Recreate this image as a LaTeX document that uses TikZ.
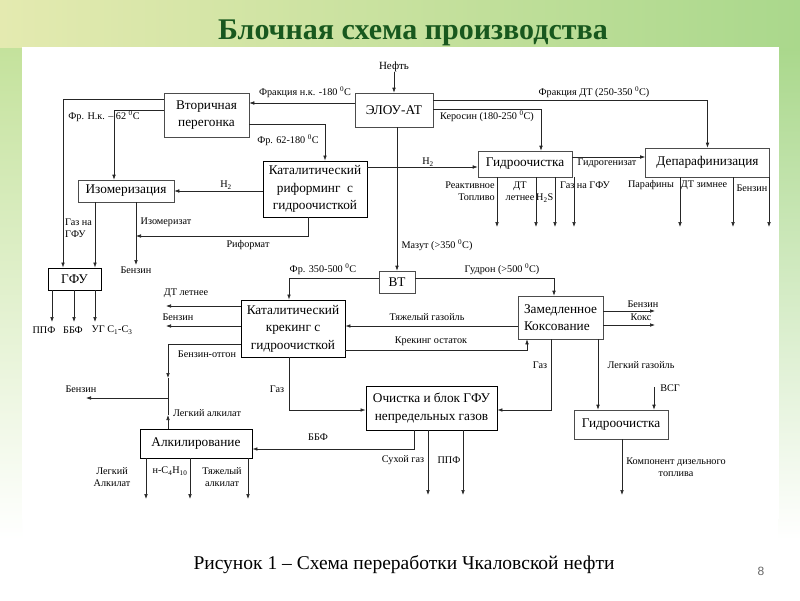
\documentclass[tikz,border=0pt]{standalone}
\usepackage{fontspec}
\setmainfont{Liberation Serif}
\setsansfont{Liberation Sans}
\usetikzlibrary{arrows.meta}

\definecolor{titlegreen}{RGB}{24,88,30}
\definecolor{bandleft}{RGB}{228,234,176}
\definecolor{bandright}{RGB}{170,216,140}
\definecolor{stripgreen}{RGB}{196,226,156}

\begin{document}
\begin{tikzpicture}
  [x=1pt, y=-1pt,
   box/.style={draw=black!70, line width=0.6pt, fill=white, inner sep=1pt, align=center,
               font=\fontsize{13.3}{17.5}\selectfont},
   boldbox/.style={box, draw=black, line width=0.9pt},
   lab/.style={inner sep=0pt, font=\fontsize{10.2}{11.5}\selectfont, align=center},
   arr/.style={draw=black!85, line width=0.6pt, -{Latex[length=5pt,width=3.6pt]}},
   line/.style={draw=black!85, line width=0.6pt}]
  \useasboundingbox (0,0) rectangle (800,600);
  % slide background
  \fill[white] (0,0) rectangle (800,600);
  \shade[left color=bandleft, right color=bandright] (0,0) rectangle (800,48);
  \shade[top color=stripgreen, bottom color=white] (0,48) rectangle (22,540);
  \shade[top color=bandright, bottom color=white] (778,48) rectangle (800,540);
  \fill[white] (22,47) rectangle (779,519);
  \node[font=\bfseries\fontsize{30}{33}\selectfont, text=titlegreen] (title) at (413,33) {Блочная схема производства};

  % blocks
  \node[box, minimum width=78, minimum height=34] (elou) at (394,110) {ЭЛОУ-АТ};
  \node[box, minimum width=85, minimum height=44] (vtor) at (206.5,115) {Вторичная\\перегонка};
  \node[boldbox, minimum width=104, minimum height=56] (reform) at (315,189) {Каталитический\\риформинг\ \ с\\гидроочисткой};
  \node[box, minimum width=96, minimum height=22] (izom) at (126,191) {Изомеризация};
  \node[box, minimum width=94, minimum height=26] (gidro) at (525,164) {Гидроочистка};
  \node[box, minimum width=124, minimum height=29] (depar) at (707.5,162.5) {Депарафинизация};
  \node[boldbox, minimum width=53, minimum height=22] (gfu) at (74.5,279) {ГФУ};
  \node[box, minimum width=36, minimum height=22] (vt) at (397,282) {ВТ};
  \node[boldbox, minimum width=104, minimum height=57] (kreking) at (293,328.5) {Каталитический\\крекинг с\\гидроочисткой};
  \node[box, minimum width=85, minimum height=43, align=left] (koks) at (560.5,317.5) {Замедленное\\Коксование};
  \node[boldbox, minimum width=131, minimum height=44] (ochist) at (431.5,408) {Очистка и блок ГФУ\\непредельных газов};
  \node[box, minimum width=94, minimum height=29] (gidrob) at (621,424.5) {Гидроочистка};
  \node[boldbox, minimum width=112, minimum height=29] (alkil) at (196,443.5) {Алкилирование};

  % top part
  \node[lab, font=\fontsize{11}{13}\selectfont] (neft) at (394,67) {Нефть};
  \draw[arr] (neft.south) -- (elou.north);
  \draw[arr] (elou.west |- 0,103) -- (vtor.east |- 0,103);
  \node[lab] (tfnk) at (305,92) {Фракция н.к. -180 \textsuperscript{0}С};
  \draw[arr] (elou.east |- 0,100) -| (depar.north);
  \node[lab] (tfdt) at (594,92) {Фракция ДТ (250-350 \textsuperscript{0}С)};
  \draw[arr] (elou.east |- 0,109) -| (gidro.north -| 541,0);
  \node[lab] (tker) at (487,116) {Керосин (180-250 \textsuperscript{0}С)};
  \draw[arr] (vtor.west |- 0,99) -| (gfu.north -| 63,0);
  \draw[arr] (vtor.west |- 0,110) -| (izom.north -| 114,0);
  \node[lab] (tf62) at (104,116) {Фр. Н.к. -- 62 \textsuperscript{0}С};
  \draw[arr] (vtor.east |- 0,124) -| (reform.north -| 325,0);
  \node[lab] (tf180) at (288,140) {Фр. 62-180 \textsuperscript{0}С};
  \draw[arr] (reform.west |- 0,191) -- (izom.east |- 0,191);
  \node[lab] (th2a) at (226,185) {H\textsubscript{2}};
  \draw[arr] (reform.east |- 0,167) -- (gidro.west |- 0,167);
  \node[lab] (th2b) at (428,162) {H\textsubscript{2}};
  \draw[arr] (gidro.east |- 0,157) -- (depar.west |- 0,157);
  \node[lab] (tgidrog) at (607,163) {Гидрогенизат};

  % gidroochistka and deparafinizatsiya products
  \foreach \x in {497,536,555,574}
    \draw[arr] (gidro.south -| \x,0) -- (\x,227);
  \foreach \x in {680,733,769}
    \draw[arr] (depar.south -| \x,0) -- (\x,227);
  \node[lab, align=right] (treakt) at (470,191) {Реактивное\\Топливо};
  \node[lab] (tdtl) at (520,191) {ДТ\\летнее};
  \node[lab, anchor=base west] (th2s) at (536,200.5) {H\textsubscript{2}S};
  \node[lab] (tgazg) at (585,185) {Газ на ГФУ};
  \node[lab] (tparaf) at (651,185) {Парафины};
  \node[lab] (tdtz) at (704,185) {ДТ зимнее};
  \node[lab] (tbenz1) at (752,188) {Бензин};

  % izomerizatsiya, GFU
  \coordinate (benzizo) at (136,265);
  \draw[arr] (izom.south -| benzizo) -- (benzizo);
  \node[lab] (tizom) at (166,222) {Изомеризат};
  \node[lab] (tbenz2) at (136,270) {Бензин};
  \draw[arr] (reform.south -| 308,0) |- (benzizo |- 0,236);
  \node[lab] (trif) at (248,245) {Риформат};
  \draw[arr] (izom.south -| 95,0) -- (gfu.north -| 95,0);
  \node[lab, align=left, anchor=west] (tgazna) at (65,228) {Газ на\\ГФУ};
  \foreach \x in {52,74,95}
    \draw[arr] (gfu.south -| \x,0) -- (\x,322);
  \node[lab] (tppf1) at (44,330) {ППФ};
  \node[lab] (tbbf1) at (73,330) {ББФ};
  \node[lab] (tug) at (112,330) {УГ С\textsubscript{1}-С\textsubscript{3}};

  % VT
  \draw[arr] (elou.south -| 397,0) -- (vt.north -| 397,0);
  \node[lab] (tmazut) at (437,245) {Мазут (>350 \textsuperscript{0}С)};
  \draw[arr] (vt.west |- 0,278) -| (kreking.north -| 289,0);
  \node[lab] (tf350) at (323,269) {Фр. 350-500 \textsuperscript{0}С};
  \draw[arr] (vt.east |- 0,278) -| (koks.north -| 554,0);
  \node[lab] (tgudr) at (502,269) {Гудрон (>500 \textsuperscript{0}С)};

  % kreking and koksovanie
  \draw[arr] (koks.west |- 0,326) -- (kreking.east |- 0,326);
  \node[lab] (ttg) at (427,317) {Тяжелый газойль};
  \draw[arr] (kreking.east |- 0,350) -| (koks.south -| 527,0);
  \node[lab] (tko) at (431,341) {Крекинг остаток};
  \draw[arr] (koks.east |- 0,311) -- (655,311);
  \draw[arr] (koks.east |- 0,325) -- (655,325);
  \node[lab] (tbenz3) at (643,304) {Бензин};
  \node[lab] (tkoks) at (641,317) {Кокс};
  \draw[arr] (koks.south -| 551,0) |- (ochist.east |- 0,410);
  \node[lab] (tgaz1) at (540,365) {Газ};
  \draw[arr] (koks.south -| 598,0) -- (gidrob.north -| 598,0);
  \node[lab] (tlg) at (641,365) {Легкий газойль};
  \coordinate (vsg) at (654,387);
  \draw[arr] (vsg) -- (gidrob.north -| vsg);
  \node[lab] (tvsg) at (670,388) {ВСГ};
  \draw[arr] (gidrob.south -| 622,0) -- (622,495);
  \node[lab] (tkomp) at (676,467) {Компонент дизельного\\топлива};

  \draw[arr] (kreking.west |- 0,306) -- (166,306);
  \node[lab] (tdtl2) at (186,293) {ДТ летнее};
  \draw[arr] (kreking.west |- 0,326) -- (166,326);
  \node[lab] (tbenz4) at (178,317) {Бензин};
  \draw[arr] (kreking.west |- 0,344) -| (168,378);
  \node[lab] (totgon) at (207,354) {Бензин-отгон};
  \draw[arr] (kreking.south -| 289,0) |- (ochist.west |- 0,410);
  \node[lab] (tgaz2) at (277,389) {Газ};

  % alkilirovanie
  \draw[line] (168,378) -- (168,415);
  \draw[arr] (alkil.north -| 168,0) -- (168,415);
  \draw[arr] (168,398) -- (86,398);
  \node[lab] (tbenz5) at (81,389) {Бензин};
  \node[lab] (tla) at (207,413) {Легкий алкилат};
  \draw[arr] (ochist.south -| 414,0) |- (alkil.east |- 0,449);
  \node[lab] (tbbf2) at (318,437) {ББФ};
  \foreach \x in {146,190,248}
    \draw[arr] (alkil.south -| \x,0) -- (\x,499);
  \node[lab] (tlalk) at (112,477) {Легкий\\Алкилат};
  \node[lab] (tbutan) at (170,471) {н-С\textsubscript{4}Н\textsubscript{10}};
  \node[lab] (ttalk) at (222,477) {Тяжелый\\алкилат};
  \foreach \x in {428,463}
    \draw[arr] (ochist.south -| \x,0) -- (\x,495);
  \node[lab] (tsuh) at (403,460) {Сухой газ};
  \node[lab] (tppf2) at (449,460) {ППФ};

  % caption
  \node[font=\fontsize{19.5}{22}\selectfont] (caption) at (404,565) {Рисунок 1 -- Схема переработки Чкаловской нефти};
  \node[font=\sffamily\fontsize{12}{14}\selectfont, text=black!60] (pagenum) at (761,571) {8};
\end{tikzpicture}
\end{document}
